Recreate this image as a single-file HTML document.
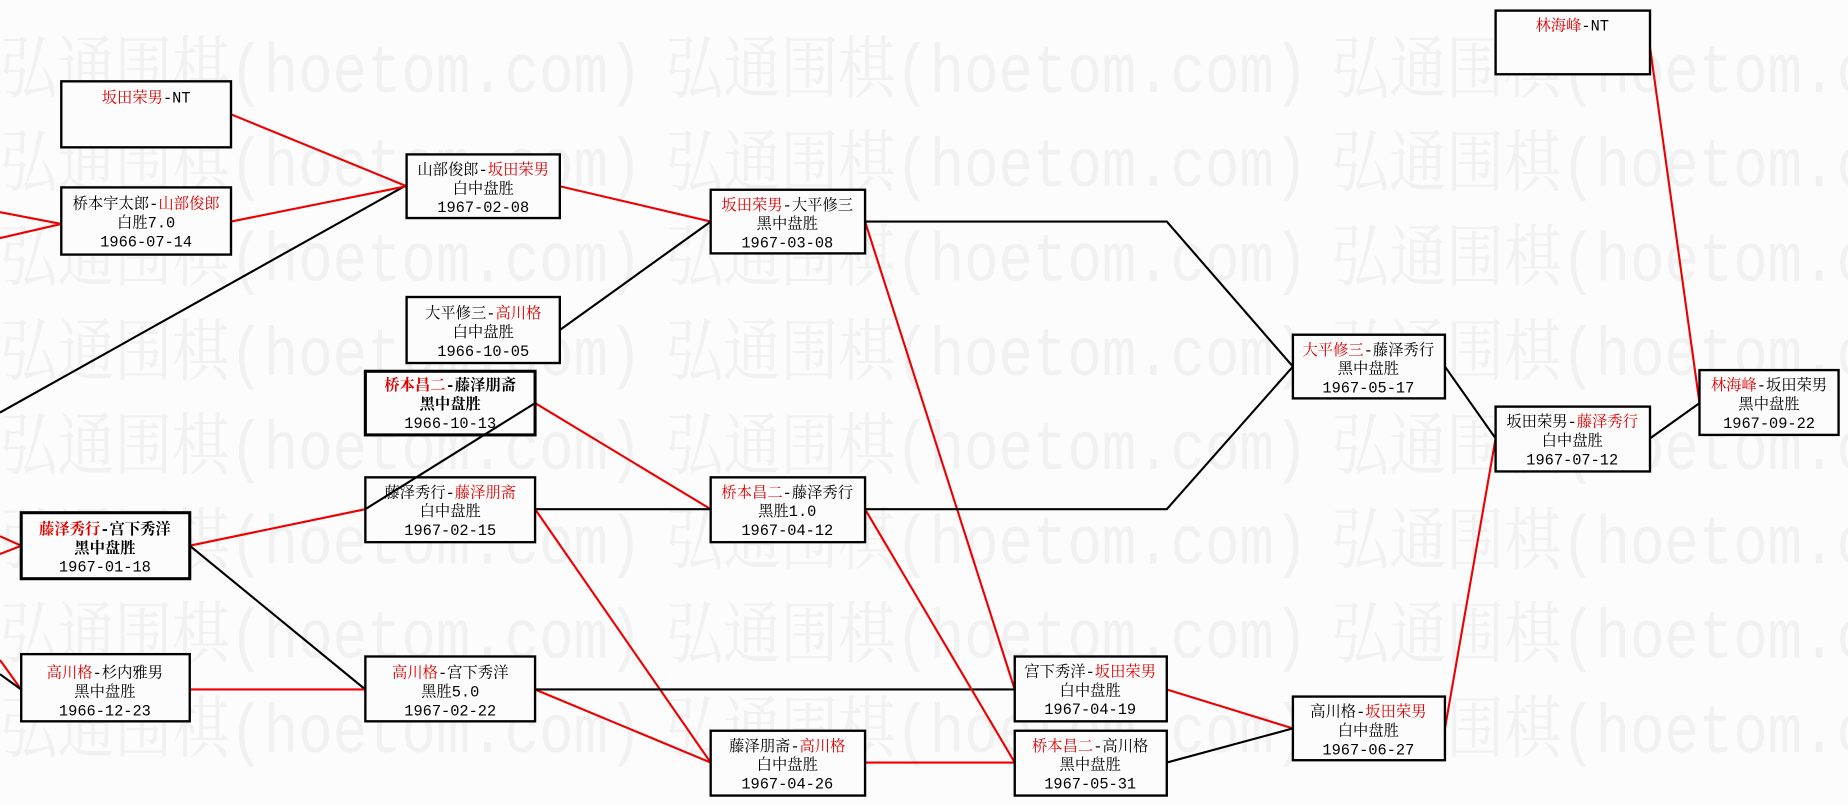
<!DOCTYPE html>
<html><head><meta charset="utf-8"><style>
html,body{margin:0;padding:0;background:#fcfcfc;overflow:hidden;width:1848px;height:805px;}
svg{display:block;}
text{font-family:"Liberation Mono","Noto Serif CJK SC","WenQuanYi Zen Hei",monospace;}
.wm{font-family:"Liberation Serif","Noto Serif CJK SC",serif;font-size:58px;fill:#f1f1f1;}
.t{font-size:13px;text-anchor:middle;fill:#000;}
.r{fill:#e00000;}
</style></head><body>
<svg width="1848" height="805" viewBox="0 0 1568 683" preserveAspectRatio="none" xmlns="http://www.w3.org/2000/svg">
<rect width="1568" height="683" fill="#fcfcfc"/>
<g class="wm">
<g id="row">
<text x="0" y="78" textLength="545" lengthAdjust="spacingAndGlyphs">弘通围棋(hoetom.com)</text>
<text x="565" y="78" textLength="545" lengthAdjust="spacingAndGlyphs">弘通围棋(hoetom.com)</text>
<text x="1130" y="78" textLength="545" lengthAdjust="spacingAndGlyphs">弘通围棋(hoetom.com)</text>
</g>
<use href="#row" y="80"/>
<use href="#row" y="160"/>
<use href="#row" y="240"/>
<use href="#row" y="320"/>
<use href="#row" y="400"/>
<use href="#row" y="480"/>
<use href="#row" y="560"/>
</g>
<g stroke-width="1.8" fill="none">
<path d="M0 180L52 190M0 202L52 190" stroke="#e00"/>
<path d="M0 350L345 157" stroke="#000"/>
<path d="M0 455L18 463M0 470L18 463" stroke="#e00"/>
<path d="M0 560L18 585" stroke="#e00"/><path d="M0 572L18 585" stroke="#000"/>
<path d="M196 97L345 158M196 188L345 158M475 158L603 188" stroke="#e00"/>
<path d="M475 280L603 188" stroke="#000"/>
<path d="M454 342L603 432" stroke="#e00"/>
<path d="M161 463L310 432" stroke="#e00"/>
<path d="M161 463L310 585" stroke="#000"/>
<path d="M161 585L310 585" stroke="#e00"/>
<path d="M454 432L603 432" stroke="#000"/>
<path d="M454 432L603 647M454 585L603 647" stroke="#e00"/>
<path d="M454 585L861 585" stroke="#000"/>
<path d="M734 188L861 585" stroke="#e00"/>
<path d="M734 188L990 188L1097 311M734 432L990 432L1097 311" stroke="#000"/>
<path d="M734 432L861 647M734 647L861 647M990 585L1097 618" stroke="#e00"/>
<path d="M990 647L1097 618M1226 311L1269 372M1400 372L1442 342" stroke="#000"/>
<path d="M1226 618L1269 372M1400 40L1442 342" stroke="#e00"/>
</g>
<g fill="#fcfcfc" stroke="#000" stroke-width="2">
<rect x="52" y="69" width="144" height="56"/>
<rect x="52" y="159" width="144" height="57"/>
<rect x="345" y="131" width="130" height="54"/>
<rect x="345" y="252" width="130" height="56"/>
<rect x="310" y="315" width="144" height="54" stroke-width="2.6"/>
<rect x="310" y="405" width="144" height="55"/>
<rect x="18" y="435" width="143" height="56" stroke-width="2.6"/>
<rect x="18" y="555" width="143" height="57"/>
<rect x="310" y="557" width="144" height="55"/>
<rect x="603" y="161" width="131" height="54"/>
<rect x="603" y="405" width="131" height="55"/>
<rect x="603" y="620" width="131" height="55"/>
<rect x="861" y="557" width="129" height="55"/>
<rect x="861" y="620" width="129" height="55"/>
<rect x="1097" y="284" width="129" height="54"/>
<rect x="1097" y="591" width="129" height="54"/>
<rect x="1269" y="345" width="131" height="55"/>
<rect x="1269" y="9" width="131" height="54"/>
<rect x="1442" y="314" width="118" height="55"/>
</g>
<g class="t">
<text x="124" y="87"><tspan class="r">坂田荣男</tspan>-NT</text>
<text x="124" y="177">桥本宇太郎-<tspan class="r">山部俊郎</tspan></text><text x="124" y="193">白胜7.0</text><text x="124" y="209">1966-07-14</text>
<text x="410" y="148">山部俊郎-<tspan class="r">坂田荣男</tspan></text><text x="410" y="164">白中盘胜</text><text x="410" y="180">1967-02-08</text>
<text x="410" y="270">大平修三-<tspan class="r">高川格</tspan></text><text x="410" y="286">白中盘胜</text><text x="410" y="302">1966-10-05</text>
<text x="382" y="331" font-weight="bold"><tspan class="r">桥本昌二</tspan>-藤泽朋斋</text><text x="382" y="347" font-weight="bold">黑中盘胜</text><text x="382" y="363">1966-10-13</text>
<text x="382" y="422">藤泽秀行-<tspan class="r">藤泽朋斋</tspan></text><text x="382" y="438">白中盘胜</text><text x="382" y="454">1967-02-15</text>
<text x="89" y="453" font-weight="bold"><tspan class="r">藤泽秀行</tspan>-宫下秀洋</text><text x="89" y="469" font-weight="bold">黑中盘胜</text><text x="89" y="485">1967-01-18</text>
<text x="89" y="575"><tspan class="r">高川格</tspan>-杉内雅男</text><text x="89" y="591">黑中盘胜</text><text x="89" y="607">1966-12-23</text>
<text x="382" y="575"><tspan class="r">高川格</tspan>-宫下秀洋</text><text x="382" y="591">黑胜5.0</text><text x="382" y="607">1967-02-22</text>
<text x="668" y="178"><tspan class="r">坂田荣男</tspan>-大平修三</text><text x="668" y="194">黑中盘胜</text><text x="668" y="210">1967-03-08</text>
<text x="668" y="422"><tspan class="r">桥本昌二</tspan>-藤泽秀行</text><text x="668" y="438">黑胜1.0</text><text x="668" y="454">1967-04-12</text>
<text x="668" y="637">藤泽朋斋-<tspan class="r">高川格</tspan></text><text x="668" y="653">白中盘胜</text><text x="668" y="669">1967-04-26</text>
<text x="925" y="574">宫下秀洋-<tspan class="r">坂田荣男</tspan></text><text x="925" y="590">白中盘胜</text><text x="925" y="606">1967-04-19</text>
<text x="925" y="637"><tspan class="r">桥本昌二</tspan>-高川格</text><text x="925" y="653">黑中盘胜</text><text x="925" y="669">1967-05-31</text>
<text x="1161" y="301"><tspan class="r">大平修三</tspan>-藤泽秀行</text><text x="1161" y="317">黑中盘胜</text><text x="1161" y="333">1967-05-17</text>
<text x="1161" y="608">高川格-<tspan class="r">坂田荣男</tspan></text><text x="1161" y="624">白中盘胜</text><text x="1161" y="640">1967-06-27</text>
<text x="1334" y="362">坂田荣男-<tspan class="r">藤泽秀行</tspan></text><text x="1334" y="378">白中盘胜</text><text x="1334" y="394">1967-07-12</text>
<text x="1334" y="26"><tspan class="r">林海峰</tspan>-NT</text>
<text x="1501" y="331"><tspan class="r">林海峰</tspan>-坂田荣男</text><text x="1501" y="347">黑中盘胜</text><text x="1501" y="363">1967-09-22</text>
</g>
<path d="M310 432L454 342" stroke="#000" stroke-width="1.8" fill="none"/>
</svg>
</body></html>
